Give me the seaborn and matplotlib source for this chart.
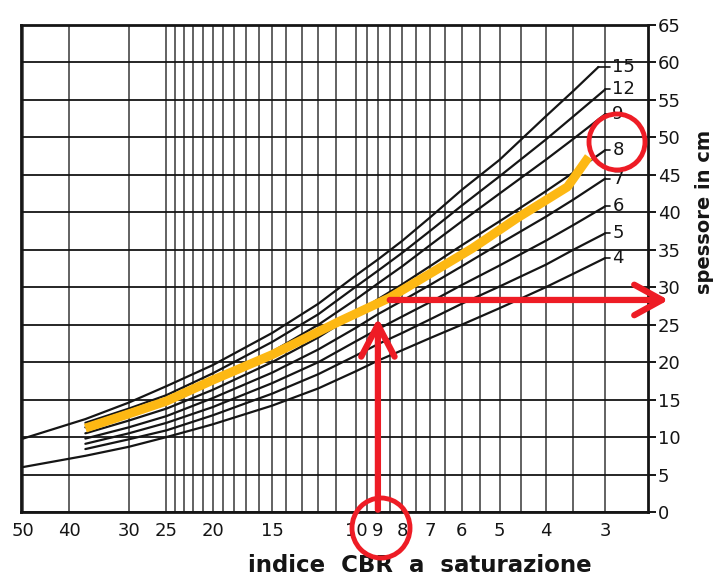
import numpy as np
import pandas as pd
import matplotlib
matplotlib.use("Agg")
import matplotlib.pyplot as plt
import seaborn as sns
from matplotlib.patches import Ellipse
from matplotlib.ticker import FixedLocator, NullFormatter

# ---------------- data ----------------
cbr_ticks = [50, 40, 30, 25, 20, 15, 10, 9, 8, 7, 6, 5, 4, 3]
cbr_tick_labels = ["50", "40", "30", "25", "20", "15", "10", "9", "8", "7", "6", "5", "4", "3"]
grid_cbr = [40, 30, 25, 24, 23, 22, 21, 20, 19, 18, 17, 16, 15, 14, 13, 12, 11, 10,
            9.5, 9, 8.5, 8, 7.5, 7, 6.5, 6, 5.5, 5, 4.5, 4, 3.5, 3]
y_ticks = [0, 5, 10, 15, 20, 25, 30, 35, 40, 45, 50, 55, 60, 65]

cbr_short = [37, 30, 25, 20, 15, 12, 10, 9, 8, 7, 6, 5, 4, 3.5, 3]
cbr_15 = [50, 37, 30, 25, 20, 15, 12, 10, 9, 8, 7, 6, 5, 4, 3.5, 3.1]
cbr_4 = [50, 37, 30, 25, 20, 15, 12, 10, 9, 8, 7, 6, 5, 4, 3.5, 3]

curve_15 = [9.8, 12.4, 14.6, 16.8, 19.6, 23.9, 27.8, 31.6, 33.7, 36.2, 39.3, 43.0, 47.0, 52.8, 56.2, 59.4]
curve_12 = [11.9, 13.8, 15.6, 18.5, 22.7, 26.4, 30.1, 32.2, 34.6, 37.5, 40.9, 44.8, 49.7, 52.8, 56.4]
curve_9 = [11.3, 13.1, 14.8, 17.5, 21.4, 25.0, 28.4, 30.5, 32.8, 35.6, 38.8, 42.5, 47.0, 49.8, 53.1]
curve_8 = [10.5, 12.2, 13.8, 16.3, 20.0, 23.3, 26.5, 28.4, 30.4, 32.8, 35.6, 38.8, 42.8, 45.3, 48.3]
curve_7 = [9.8, 11.3, 12.8, 15.2, 18.6, 21.7, 24.6, 26.4, 28.2, 30.3, 32.8, 35.8, 39.4, 41.7, 44.5]
curve_6 = [9.1, 10.5, 11.9, 14.0, 17.2, 20.0, 22.8, 24.4, 26.1, 28.0, 30.3, 32.9, 36.2, 38.3, 40.8]
curve_5 = [8.4, 9.7, 10.9, 12.9, 15.8, 18.4, 20.9, 22.4, 23.9, 25.7, 27.8, 30.1, 33.0, 35.0, 37.2]
curve_4 = [6.0, 7.5, 8.7, 10.0, 11.7, 14.2, 16.5, 18.8, 20.2, 21.6, 23.2, 25.0, 27.2, 30.0, 31.8, 33.9]

load_labels = ["15", "12", "9", "8", "7", "6", "5", "4"]

# yellow hand-drawn highlight
yellow_cbr = [37, 30, 25, 20, 15, 10.8, 8.5, 5.7, 4.6, 3.6, 3.25]
yellow_val = [11.2, 13.1, 14.8, 17.6, 21.0, 25.5, 28.6, 35.2, 39.2, 43.4, 47.4]

# red arrows (CBR 9 -> thickness read on the chart)
arrow_cbr = 9
arrow_up_from, arrow_up_to = 0.3, 25.9
arrow_h_val = 28.3
arrow_h_from, arrow_h_to = 8.5, 2.21

# ---------------- build table ----------------
curves = [curve_15, curve_12, curve_9, curve_8, curve_7, curve_6, curve_5, curve_4]
xs_all = [cbr_15, cbr_short, cbr_short, cbr_short, cbr_short, cbr_short, cbr_short, cbr_4]
series = list(zip(load_labels, xs_all, curves))
rows = []
for name, xs, ys in series:
    for x, y in zip(xs, ys):
        rows.append({"carico": name, "CBR": x, "spessore": y})
df = pd.DataFrame(rows)

# ---------------- style ----------------
sns.set_theme(style="white")
plt.rcParams["font.family"] = ["DejaVu Sans"]
INK = "#151515"
RED = "#EE1C25"
YEL = "#FDB813"

fig = plt.figure(figsize=(7.18, 5.79), dpi=100)
ax = fig.add_axes([21 / 718, 1 - 512 / 579, (648 - 21) / 718, (512 - 25) / 579])
ax.set_xscale("log")

sns.lineplot(data=df, x="CBR", y="spessore", units="carico", estimator=None,
             color=INK, lw=1.6, ax=ax, legend=False, zorder=3)

ax.set_xlim(50.5, 2.44)
ax.set_ylim(0, 65)

# x axis
ax.xaxis.set_major_locator(FixedLocator(cbr_ticks))
ax.set_xticklabels(cbr_tick_labels)
ax.xaxis.set_minor_locator(FixedLocator(grid_cbr))
ax.xaxis.set_minor_formatter(NullFormatter())
ax.tick_params(axis="x", which="both", length=0, pad=7, labelsize=13, colors=INK)
ax.grid(axis="x", which="both", color=INK, lw=1.1, alpha=0.85)

# y axis on the right
ax.yaxis.tick_right()
ax.set_yticks(y_ticks)
ax.tick_params(axis="y", which="major", length=6, width=1.4, pad=1,
               labelsize=13, direction="out", colors=INK, right=True, left=False)
ax.grid(axis="y", which="major", color=INK, lw=1.3)
ax.set_xlabel("")
ax.set_ylabel("")

for sp in ax.spines.values():
    sp.set_visible(True)
    sp.set_color(INK)
    sp.set_linewidth(2.0)

# curve labels with small leaders
for name, xs, ys in series:
    ax.plot([xs[-1], 2.93], [ys[-1], ys[-1]], color=INK, lw=1.2, zorder=3, clip_on=False)
    ax.text(2.9, ys[-1], name, ha="left", va="center", fontsize=13, color=INK, zorder=4)

# yellow highlight
ax.plot(yellow_cbr, yellow_val, color=YEL, lw=6.5, solid_capstyle="butt", zorder=5)

# red arrows
ax.annotate("", xy=(arrow_cbr, arrow_up_to), xytext=(arrow_cbr, arrow_up_from),
            arrowprops=dict(arrowstyle="->,head_length=1.15,head_width=0.6",
                            color=RED, lw=4.5, mutation_scale=20, shrinkA=0, shrinkB=0),
            annotation_clip=False, zorder=6)
ax.annotate("", xy=(arrow_h_to, arrow_h_val), xytext=(arrow_h_from, arrow_h_val),
            arrowprops=dict(arrowstyle="->,head_length=1.0,head_width=0.55",
                            color=RED, lw=4.5, mutation_scale=20, shrinkA=0, shrinkB=0),
            annotation_clip=False, zorder=6)

# red circles
fig.add_artist(Ellipse((617 / 718, 1 - 142 / 579), 56 / 718, 56 / 579,
                       transform=fig.transFigure, fill=False, ec=RED, lw=3.5, zorder=7))
fig.add_artist(Ellipse((381 / 718, 1 - 528 / 579), 58 / 718, 60 / 579,
                       transform=fig.transFigure, fill=False, ec=RED, lw=3.5, zorder=7))

# axis titles
fig.text(420 / 718, 1 - 565 / 579, "indice  CBR  a  saturazione", ha="center", va="center",
         fontsize=16.5, fontweight="bold", color=INK)
fig.text(705 / 718, 1 - 212 / 579, "spessore in cm", ha="center", va="center",
         rotation=90, fontsize=14, fontweight="bold", color=INK)

fig.savefig("out.png", dpi=100, facecolor="white")
